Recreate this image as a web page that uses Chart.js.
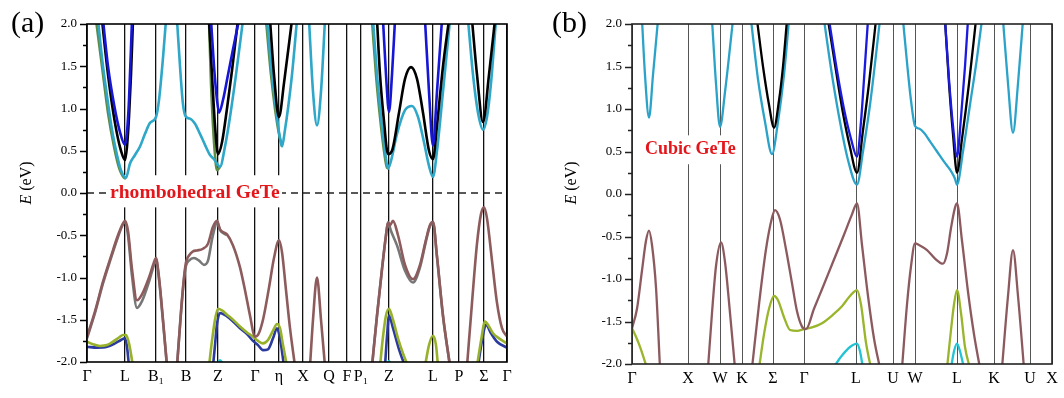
<!DOCTYPE html>
<html>
<head>
<meta charset="utf-8">
<script src="https://cdn.jsdelivr.net/npm/chart.js@4.4.1/dist/chart.umd.min.js"></script>
<style>
  html, body { margin:0; padding:0; background:#fff; }
  #wrap { position:relative; width:1064px; height:398px; overflow:hidden; }
  canvas { position:absolute; top:0; }
  #chartA { left:0; }
  #chartB { left:534px; }
</style>
</head>
<body>
<div id="wrap">
  <canvas id="chartA" width="530" height="398"></canvas>
  <canvas id="chartB" width="530" height="398"></canvas>
</div>
<script>
// ------------------- (a) rhombohedral GeTe -------------------
// k = distance along the path (arbitrary units), E in eV
const kTicksA = [0, 38, 69, 99, 131, 168, 192, 216, 242, 260, 274, 302, 346, 372, 397, 420];
const kLabelsA = ['Γ', 'L', 'B₁', 'B', 'Z', 'Γ', 'η', 'X', 'Q', 'F', 'P₁', 'Z', 'L', 'P', 'Σ', 'Γ'];

// conduction bands
const cyanA = [
  [[11,2.05],[15,1.6],[20,1.15],[25,0.75],[30,0.45],[34,0.27],[39,0.18],[43,0.35],[48,0.45],[53,0.55],[58,0.7],[63,0.83],[69,0.9],[72,1.1],[76,1.6],[79,2.05]],
  [[90,2.05],[93,1.5],[96,1.05],[99,0.9],[103,0.88],[108,0.82],[113,0.7],[118,0.57],[123,0.45],[127,0.4],[131,0.33],[133,0.31],[138,0.55],[143,0.9],[149,1.4],[156,2.05]],
  [[180,2.05],[185,1.4],[189,1.0],[192,0.72],[195,0.55],[198,0.75],[201,1.0],[205,1.4],[210,2.05]],
  [[222,2.05],[226,1.2],[230,0.8],[234,1.2],[238,2.05]],
  [[286,2.05],[290,1.4],[294,0.9],[298,0.5],[301,0.29],[304,0.38],[310,0.7],[318,0.98],[325,1.03],[331,0.9],[337,0.6],[342,0.32],[346,0.19],[350,0.5],[356,1.2],[363,2.05]],
  [[381,2.05],[386,1.4],[391,0.95],[396,0.75],[400,0.9],[404,1.3],[409,2.05]]
];
const blackA = [
  [[15,2.05],[20,1.5],[25,1.05],[30,0.7],[34,0.5],[38,0.39],[40,0.55],[42,0.9],[44,1.4],[46,2.05]],
  [[122,2.05],[125,1.4],[128,0.8],[131,0.46],[135,0.6],[140,1.0],[145,1.45],[151,2.05]],
  [[183,2.05],[187,1.4],[192,0.9],[197,1.3],[205,2.05]],
  [[290,2.05],[293,1.4],[297,0.85],[301,0.46],[305,0.5],[312,0.95],[318,1.35],[324,1.49],[330,1.35],[336,0.95],[342,0.5],[346,0.4],[350,0.8],[356,1.5],[362,2.05]],
  [[385,2.05],[390,1.4],[396,0.84],[402,1.4],[408,2.05]]
];
const blueA = [
  [[16,2.05],[21,1.5],[27,1.05],[33,0.72],[38,0.57],[40,0.72],[42,1.1],[45,2.05]],
  [[124,2.05],[127,1.5],[130,1.1],[132,0.95],[136,1.1],[141,1.4],[146,1.7],[152,2.05]],
  [[296,2.05],[299,1.4],[302,0.96],[305,1.4],[308,2.05]],
  [[338,2.05],[342,1.2],[346,0.56],[350,1.2],[355,2.05]]
];
const oliveA = [
  [[9,2.05],[15,1.5],[21,0.95],[27,0.55],[32,0.3],[37,0.18],[39,0.17]],
  [[122,2.05],[124,1.3],[126,0.8],[128,0.45],[130,0.27],[133,0.31]],
  [[179,2.05],[184,1.4],[188,1.0],[192,0.7],[195,0.55]],
  [[285,2.05],[289,1.4],[293,0.9],[297,0.5],[300,0.3],[302,0.29]]
];

// valence bands
const brownA = [
  [[0,-1.7],[8,-1.4],[16,-1.05],[24,-0.75],[31,-0.5],[36,-0.36],[38,-0.33],[41,-0.45],[45,-0.9],[50,-1.27],[55,-1.2],[62,-1.0],[67,-0.82],[69,-0.77],[72,-1.0],[76,-1.5],[80,-2.05]],
  [[90,-2.05],[94,-1.4],[97,-1.0],[99,-0.82],[102,-0.74],[106,-0.69],[110,-0.68],[116,-0.66],[121,-0.6],[126,-0.4],[130,-0.33],[133,-0.43],[140,-0.49],[146,-0.62],[153,-0.88],[158,-1.15],[163,-1.45],[168,-1.7],[171,-1.68],[176,-1.5],[182,-1.12],[187,-0.77],[192,-0.56],[195,-0.7],[199,-1.15],[203,-1.6],[208,-2.05]],
  [[223,-2.05],[226,-1.5],[230,-1.0],[234,-1.5],[238,-2.05]],
  [[285,-2.05],[290,-1.45],[295,-0.9],[299,-0.5],[301,-0.35],[303,-0.38],[306,-0.33],[311,-0.5],[318,-0.85],[326,-1.02],[333,-0.85],[339,-0.55],[343,-0.38],[346,-0.34],[350,-0.75],[356,-1.45],[363,-2.05]],
  [[380,-2.05],[385,-1.3],[390,-0.6],[394,-0.25],[397,-0.17],[400,-0.3],[405,-0.8],[410,-1.3],[415,-1.6],[420,-1.7]]
];
const grayA = [
  [[0,-1.72],[8,-1.42],[16,-1.07],[24,-0.77],[31,-0.52],[36,-0.37],[38,-0.34],[41,-0.5],[45,-0.98],[50,-1.36],[55,-1.28],[62,-1.05],[67,-0.85],[69,-0.79],[72,-1.02],[76,-1.52],[80,-2.05]],
  [[90,-2.05],[94,-1.42],[97,-1.02],[99,-0.86],[102,-0.8],[107,-0.77],[112,-0.8],[117,-0.85],[121,-0.8],[125,-0.55],[128,-0.4],[130,-0.34],[133,-0.44],[140,-0.5]],
  [[285,-2.05],[290,-1.45],[295,-0.9],[299,-0.5],[301,-0.35],[304,-0.45],[310,-0.62],[318,-0.92],[326,-1.06],[333,-0.88],[339,-0.57],[343,-0.39],[346,-0.35],[350,-0.76],[356,-1.46],[363,-2.05]]
];
const yellowA = [
  [[0,-1.76],[6,-1.79],[13,-1.81],[20,-1.8],[26,-1.76],[32,-1.71],[36,-1.68],[39,-1.68],[42,-1.78],[46,-2.05]],
  [[122,-2.05],[125,-1.75],[128,-1.5],[131,-1.37],[135,-1.39],[140,-1.44],[146,-1.5],[153,-1.58],[160,-1.65],[166,-1.7],[171,-1.75],[176,-1.78],[181,-1.74],[186,-1.63],[190,-1.55],[193,-1.6],[196,-1.8],[200,-2.05]],
  [[293,-2.05],[296,-1.7],[299,-1.45],[302,-1.37],[306,-1.5],[311,-1.72],[316,-1.9],[321,-2.05]],
  [[338,-2.05],[342,-1.8],[346,-1.69],[349,-1.8],[351,-2.05]],
  [[390,-2.05],[394,-1.75],[398,-1.52],[402,-1.58],[406,-1.66],[412,-1.72],[420,-1.78]]
];
const navyA = [
  [[0,-1.82],[10,-1.83],[20,-1.82],[28,-1.78],[34,-1.74],[38,-1.72],[40,-1.82],[42,-2.05]],
  [[126,-2.05],[128,-1.8],[130,-1.55],[133,-1.42],[140,-1.46],[146,-1.52],[153,-1.6],[160,-1.67],[166,-1.75],[171,-1.8],[176,-1.86],[181,-1.85],[186,-1.72],[190,-1.6],[193,-1.72],[197,-2.05]],
  [[298,-2.05],[300,-1.7],[302,-1.45],[306,-1.6],[312,-1.85],[318,-2.05]],
  [[391,-2.05],[395,-1.75],[399,-1.56],[404,-1.66],[410,-1.76],[420,-1.83]]
];
const cyanLowA = [
  [[130,-2.05],[133,-1.98],[137,-2.05]],
  [[300,-2.05],[302,-1.99],[304,-2.05]]
];

// ------------------- (b) cubic GeTe -------------------
const kTicksB = [0, 56, 88, 110, 141, 172, 224, 261, 283, 325, 362, 398, 420];
const kLabelsB = ['Γ', 'X', 'W', 'K', 'Σ', 'Γ', 'L', 'U', 'W', 'L', 'K', 'U', 'X'];

const cyanB = [
  [[10,2.05],[13,1.4],[17,0.9],[21,1.4],[26,2.05]],
  [[80,2.05],[84,1.3],[88,0.79],[93,1.2],[101,2.05]],
  [[119,2.05],[126,1.35],[133,0.85],[140,0.47],[146,0.85],[152,1.4],[157,2.05]],
  [[192,2.05],[200,1.4],[208,0.85],[216,0.4],[225,0.11],[231,0.5],[238,1.05],[248,2.05]],
  [[271,2.05],[275,1.55],[279,1.1],[283,0.8],[287,0.77],[292,0.72],[298,0.62],[305,0.5],[312,0.38],[319,0.27],[323,0.18],[325,0.11],[331,0.5],[338,1.05],[345,1.6],[350,2.05]],
  [[371,2.05],[376,1.3],[381,0.72],[386,1.3],[391,2.05]]
];
const blackB = [
  [[125,2.05],[131,1.5],[137,1.05],[142,0.78],[147,1.1],[151,1.5],[155,2.05]],
  [[196,2.05],[204,1.45],[211,0.95],[218,0.55],[225,0.25],[231,0.75],[237,1.3],[244,2.05]],
  [[313,2.05],[317,1.3],[321,0.7],[325,0.25],[330,0.65],[337,1.3],[344,2.05]]
];
const blueB = [
  [[197,2.05],[205,1.45],[212,1.0],[219,0.65],[225,0.44],[229,0.85],[232,1.35],[236,2.05]],
  [[313,2.05],[317,1.35],[321,0.8],[325,0.44],[329,0.9],[333,1.5],[336,2.05]]
];
const brownB = [
  [[0,-1.58],[5,-1.35],[10,-0.9],[14,-0.55],[17,-0.43],[20,-0.6],[24,-1.1],[28,-2.05]],
  [[76,-2.05],[80,-1.4],[84,-0.85],[89,-0.57],[93,-0.8],[98,-1.4],[103,-2.05]],
  [[120,-2.05],[127,-1.3],[134,-0.65],[140,-0.28],[143,-0.19],[148,-0.3],[154,-0.65],[160,-1.05],[165,-1.38],[170,-1.56],[174,-1.59],[182,-1.35],[190,-1.12],[201,-0.8],[212,-0.48],[220,-0.24],[225,-0.11],[230,-0.6],[236,-1.2],[242,-1.7],[248,-2.05]],
  [[270,-2.05],[275,-1.3],[279,-0.85],[283,-0.58],[287,-0.6],[295,-0.66],[303,-0.76],[311,-0.82],[315,-0.7],[319,-0.4],[323,-0.16],[325,-0.11],[330,-0.55],[336,-1.15],[342,-1.65],[348,-2.05]],
  [[370,-2.05],[376,-1.2],[381,-0.66],[386,-1.2],[392,-2.05]]
];
const yellowB = [
  [[0,-1.58],[4,-1.68],[9,-1.83],[15,-2.05]],
  [[127,-2.05],[132,-1.65],[137,-1.35],[142,-1.2],[146,-1.25],[152,-1.45],[158,-1.6],[165,-1.61],[172,-1.59],[180,-1.57],[190,-1.52],[201,-1.42],[210,-1.32],[218,-1.2],[225,-1.13],[229,-1.3],[234,-1.75],[239,-2.05]],
  [[315,-2.05],[319,-1.6],[322,-1.3],[325,-1.13],[329,-1.4],[333,-1.8],[338,-2.05]]
];
const cyanLowB = [
  [[201,-2.05],[210,-1.9],[218,-1.8],[225,-1.76],[228,-1.85],[231,-2.05]],
  [[319,-2.05],[322,-1.85],[325,-1.76],[328,-1.85],[332,-2.05]]
];

// ------------------- Pomocnicze -------------------
const SERIF = "'Liberation Serif', 'Times New Roman', serif";
Chart.defaults.font.family = SERIF;
Chart.defaults.color = '#000';

// one dataset per band segment, first pushed = drawn on top
function band(segments, color, width) {
  return segments.map(seg => ({
    data: seg.map(p => ({ x: p[0], y: p[1] })),
    borderColor: color,
    borderWidth: width,
    pointRadius: 0,
    cubicInterpolationMode: 'monotone',
    clip: 0,
    fill: false
  }));
}

function decorPlugin(opt) {
  return {
    id: 'decor',
    beforeDatasetsDraw(chart) {
      const ctx = chart.ctx, a = chart.chartArea;
      const xs = chart.scales.x, ys = chart.scales.y;
      ctx.save();
      if (opt.zeroLine) {
        const y0 = ys.getPixelForValue(0);
        ctx.strokeStyle = '#222';
        ctx.lineWidth = 1.5;
        ctx.setLineDash([7, 5]);
        ctx.beginPath();
        ctx.moveTo(a.left, y0);
        ctx.lineTo(a.right, y0);
        ctx.stroke();
        ctx.setLineDash([]);
      }
      const n = opt.note;
      const bx0 = xs.getPixelForValue(n.box[0]), bx1 = xs.getPixelForValue(n.box[1]);
      const by0 = ys.getPixelForValue(n.box[2]), by1 = ys.getPixelForValue(n.box[3]);
      ctx.fillStyle = '#fff';
      ctx.fillRect(bx0, by0, bx1 - bx0, by1 - by0);
      ctx.fillStyle = '#e3161b';
      ctx.font = n.font;
      ctx.textAlign = 'left';
      ctx.textBaseline = 'middle';
      ctx.fillText(n.text, xs.getPixelForValue(n.at[0]), ys.getPixelForValue(n.at[1]));
      ctx.restore();
    },
    afterDatasetsDraw(chart) {
      const ctx = chart.ctx, a = chart.chartArea, ys = chart.scales.y;
      ctx.save();
      ctx.strokeStyle = opt.frame;
      ctx.lineWidth = 1.6;
      ctx.strokeRect(a.left, a.top, a.right - a.left, a.bottom - a.top);
      // y ticks: major every 0.5, minor every 0.25
      ctx.lineWidth = 1.3;
      ctx.beginPath();
      for (let v = -2; v <= 2.001; v += 0.25) {
        const major = Math.abs(v * 2 - Math.round(v * 2)) < 1e-6;
        const y = Math.round(ys.getPixelForValue(v)) + 0.5;
        ctx.moveTo(a.left - (major ? 7 : 4), y);
        ctx.lineTo(a.left, y);
      }
      ctx.stroke();
      ctx.restore();
    },
    afterDraw(chart) {
      const ctx = chart.ctx, a = chart.chartArea;
      ctx.save();
      ctx.fillStyle = '#000';
      // panel letter
      ctx.font = '30px ' + SERIF;
      ctx.textAlign = 'left';
      ctx.textBaseline = 'middle';
      ctx.fillText(opt.letter, opt.letterX, 24);
      // axis title: E (eV)
      ctx.translate(a.left - 60, 183);
      ctx.rotate(-Math.PI / 2);
      ctx.font = 'italic 16px ' + SERIF;
      const w1 = ctx.measureText('E').width;
      ctx.font = '16px ' + SERIF;
      const w2 = ctx.measureText(' (eV)').width;
      const start = -(w1 + w2) / 2;
      ctx.font = 'italic 16px ' + SERIF;
      ctx.fillText('E', start, 0);
      ctx.font = '16px ' + SERIF;
      ctx.fillText(' (eV)', start + w1, 0);
      ctx.restore();
    }
  };
}

function makeChart(id, datasets, kTicks, kLabels, pad, gridColor, gridWidth, extra) {
  return new Chart(document.getElementById(id), {
    type: 'line',
    data: { datasets },
    options: {
      responsive: false,
      animation: false,
      devicePixelRatio: 1,
      layout: { padding: { left: 0, top: 24, right: pad.right, bottom: 0 } },
      plugins: { legend: { display: false }, tooltip: { enabled: false } },
      scales: {
        x: {
          type: 'linear',
          min: 0, max: 420,
          afterBuildTicks: s => { s.ticks = kTicks.map(v => ({ value: v })); },
          afterFit: s => { s.height = pad.xAxis; },
          ticks: {
            autoSkip: false, maxRotation: 0, padding: 5,
            font: { size: 16 },
            callback: (v, i) => kLabels[i]
          },
          grid: { color: gridColor, lineWidth: gridWidth, drawTicks: false },
          border: { display: false }
        },
        y: {
          min: -2, max: 2,
          afterFit: s => { s.width = pad.yAxis; },
          ticks: {
            stepSize: 0.25, padding: 10,
            font: { size: 13 },
            callback: v => (Math.abs(v * 2 - Math.round(v * 2)) < 1e-6 ? v.toFixed(1) : '')
          },
          grid: { display: false, drawTicks: false },
          border: { display: false }
        }
      }
    },
    plugins: [decorPlugin(extra)]
  });
}

// ------------------- Rysowanie -------------------
const dsA = [].concat(
  band(blueA, '#1616d6', 2.6),
  band(blackA, '#000000', 2.6),
  band(cyanA, '#2ea7c9', 2.6),
  band(oliveA, '#5d8a45', 2.6),
  band(cyanLowA, '#1fc6d4', 2.6),
  band(brownA, '#8d5b5c', 2.6),
  band(grayA, '#777777', 2.6),
  band(yellowA, '#97b22a', 2.6),
  band(navyA, '#2b3a9e', 2.6)
);
makeChart('chartA', dsA, kTicksA, kLabelsA, { right: 23, xAxis: 36, yAxis: 87 }, '#111', 1.3, {
  zeroLine: true, frame: '#000', letter: '(a)', letterX: 11,
  note: { text: 'rhombohedral GeTe', font: 'bold 19.6px ' + SERIF, at: [23, 0], box: [21, 195, 0.21, -0.17] }
});

const dsB = [].concat(
  band(blueB, '#1a1ae0', 2.3),
  band(blackB, '#000000', 2.3),
  band(cyanB, '#2ba3c9', 2.3),
  band(brownB, '#8c5a5e', 2.3),
  band(yellowB, '#99b52b', 2.3),
  band(cyanLowB, '#22c3d3', 2.3)
);
makeChart('chartB', dsB, kTicksB, kLabelsB, { right: 12, xAxis: 34, yAxis: 98 }, '#555', 1, {
  zeroLine: false, frame: '#222', letter: '(b)', letterX: 18,
  note: { text: 'Cubic GeTe', font: 'bold 18px ' + SERIF, at: [13, 0.52], box: [11, 105, 0.69, 0.35] }
});
</script>
</body>
</html>
